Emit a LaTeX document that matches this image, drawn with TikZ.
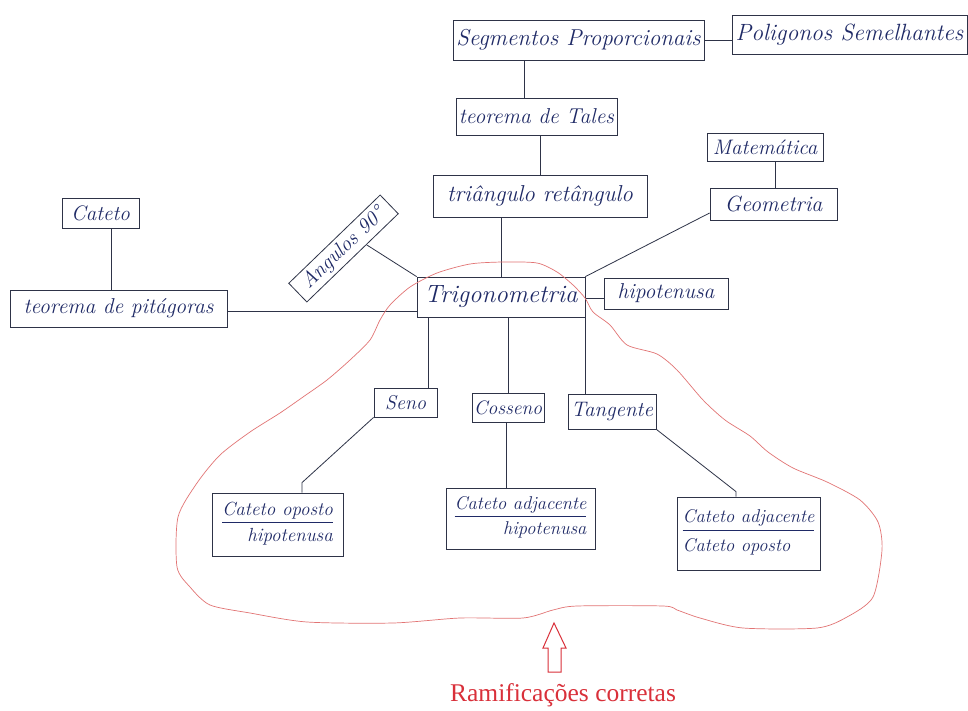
\documentclass[tikz,border=0pt]{standalone}
\usepackage{fontspec}
\usetikzlibrary{calc}
\newfontfamily\capfont{Liberation Serif}
\newcommand\hw[1]{\fontsize{#1}{#1}\selectfont\itshape}
\definecolor{linec}{HTML}{2E3347}
\definecolor{inkc}{HTML}{1F2A66}
\definecolor{cloudc}{HTML}{E27474}
\definecolor{notec}{HTML}{D9303A}
\setlength{\arrayrulewidth}{0.9pt}
\begin{document}
\begin{tikzpicture}[x=1pt,y=-1pt,
  box/.style={draw=linec, line width=0.8pt, inner sep=0pt, text=inkc},
  conn/.style={draw=linec, line width=0.8pt}]
\fill[white] (0,0) rectangle (968,711);
\useasboundingbox (0,0) rectangle (968,711);

% --- upper chain ---
\node[box, minimum width=251pt, minimum height=40pt, font=\hw{23}] (seg) at (578.5,40) {Segmentos Proporcionais};
\node[box, minimum width=235pt, minimum height=39pt, font=\hw{23.5}] (pol) at (849.5,34.5) {Poligonos Semelhantes};
\node[box, minimum width=161pt, minimum height=37pt, font=\hw{21.5}] (tales) at (536.5,116.5) {teorema de Tales};
\node[box, minimum width=214pt, minimum height=42pt, font=\hw{23}] (tri) at (540,196) {triângulo retângulo};
\node[box, minimum width=116pt, minimum height=28pt, font=\hw{21}] (mat) at (765,147) {Matemática};
\node[box, minimum width=127pt, minimum height=32pt, font=\hw{22}] (geo) at (773.5,204) {Geometria};

% --- centre ---
\node[box, minimum width=168pt, minimum height=40pt, font=\hw{25}] (trig) at (501,297) {Trigonometria};
\node[box, minimum width=124pt, minimum height=31pt, font=\hw{21.5}] (hip) at (666,293.5) {hipotenusa};
\node[box, minimum width=77pt, minimum height=30pt, font=\hw{21}] (cat) at (100.5,213) {Cateto};
\node[box, minimum width=217pt, minimum height=37pt, font=\hw{21.5}] (pit) at (118.5,308.5) {teorema de pitágoras};
\node[box, minimum width=127pt, minimum height=26pt, rotate=44, font=\hw{21}] (ang) at (343.5,248.5) {Angulos 90°};

% --- ratios ---
\node[box, minimum width=63pt, minimum height=29pt, font=\hw{20}] (seno) at (405.5,402.5) {Seno};
\node[box, minimum width=72pt, minimum height=29pt, font=\hw{19.5}] (cos) at (508,407.5) {Cosseno};
\node[box, minimum width=88pt, minimum height=35pt, font=\hw{21}] (tan) at (612,411.5) {Tangente};

\node[box, minimum width=131pt, minimum height=63pt, font=\hw{19}] (soh) at (277.5,524.5)
  {\begin{tabular}{@{}r@{}}Cateto oposto\\[1pt]\hline\rule{0pt}{18pt}hipotenusa\end{tabular}};
\node[box, minimum width=149pt, minimum height=61pt, font=\hw{18.5}] (cah) at (520.5,518.5)
  {\begin{tabular}{@{}r@{}}Cateto adjacente\\[1pt]\hline\rule{0pt}{18pt}hipotenusa\end{tabular}};
\node[box, minimum width=143pt, minimum height=73pt, font=\hw{18.5}] (toa) at (748.5,533.5)
  {\begin{tabular}{@{}l@{}}Cateto adjacente\\[2pt]\hline\rule{0pt}{21pt}Cateto oposto\end{tabular}};

% --- connectors ---
\draw[conn] (seg.east) -- (pol.west |- seg.east);
\draw[conn] ([xshift=-12.5pt]tales.north) -- ([xshift=-12.5pt]tales.north |- seg.south);
\draw[conn] (tri.north) -- (tri.north |- tales.south);
\draw[conn] (trig.north) -- (trig.north |- tri.south);
\draw[conn] ([xshift=1.5pt]geo.north) -- ([xshift=1.5pt]geo.north |- mat.south);
\draw[conn] (trig.north east) -- ([yshift=-9pt]geo.west);
\draw[conn] ([yshift=-5pt]hip.west) -- ([yshift=-5pt]hip.west -| trig.east);
\draw[conn] ([xshift=10.5pt]cat.south) -- ([xshift=10.5pt]cat.south |- pit.north);
\draw[conn] ([yshift=-2.5pt]pit.east) -- ([yshift=-2.5pt]pit.east -| trig.west);
\draw[conn] ($(ang.south)!0.3!(ang.south east)$) -- (trig.north west);
\draw[conn] ([xshift=-9pt]seno.north east) -- ([xshift=-9pt]seno.north east |- trig.south);
\draw[conn] (cos.north) -- (cos.north |- trig.south);
\draw[conn] (trig.south east) -- (trig.south east |- tan.north);
\draw[conn] (seno.south west) -- ([xshift=24.5pt,yshift=10pt]soh.north) -- ([xshift=24.5pt]soh.north);
\draw[conn] ([xshift=-2pt]cos.south) -- ([xshift=-2pt]cos.south |- cah.north);
\draw[conn] (tan.south east) -- ([xshift=-12.5pt,yshift=5pt]toa.north) -- ([xshift=-12.5pt]toa.north);

% --- red outline round the ratio branches ---
\draw[cloudc, line width=0.7pt] plot[smooth cycle, tension=0.45] coordinates {
  (470,264) (503,262) (537,263) (557,272) (573,285) (585,298) (593,312)
  (610,325) (627,345) (657,354) (677,370) (703,400) (725,420) (750,436)
  (768,452) (793,468) (827,482) (860,500) (878,522) (882,550) (873,597)
  (847,617) (817,628) (743,628) (700,618) (677,610) (663,606) (577,606)
  (553,610) (523,618) (460,618) (393,623) (307,622) (250,613) (210,605)
  (190,587) (177,567) (178,517) (197,483) (220,455) (250,432) (280,413)
  (303,397) (327,380) (350,360) (370,340) (380,320) (390,305) (410,287)
  (437,273)};

% --- hollow arrow and caption ---
\draw[notec, line width=1pt, line join=miter, fill=white]
  (554,623) -- (566,648) -- (561,648) -- (561,672) -- (548,672) -- (548,648) -- (543,648) -- cycle;
\node[text=notec, font=\capfont\fontsize{25.5}{28}\selectfont, inner sep=0pt] (cap) at (563,695) {Ramificações corretas};
\end{tikzpicture}
\end{document}
